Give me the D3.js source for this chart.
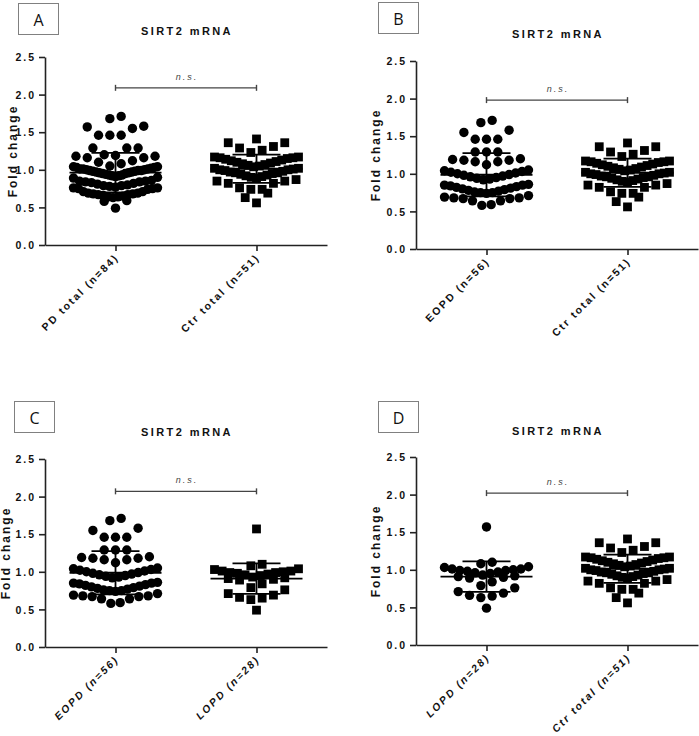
<!DOCTYPE html>
<html><head><meta charset="utf-8">
<script src="https://cdn.jsdelivr.net/npm/d3@7"></script>
<style>body{margin:0;background:#fff} svg{display:block}</style>
</head><body>
<svg id="chart" width="699" height="736"></svg>
<script>
// ---- data ----
const eopd = [1.71,1.68,1.58,1.55,1.46,1.46,1.46,1.29,1.29,1.29,1.20,1.19,1.18,1.18,1.16,1.16,1.12,
  1.05,1.04,1.03,1.02,1.01,1.00,0.99,0.98,0.97,0.96,0.95,0.94,0.93,0.92,
  0.86,0.85,0.85,0.84,0.83,0.82,0.81,0.80,0.79,0.78,0.77,0.76,0.75,0.75,0.74,
  0.71,0.69,0.68,0.68,0.67,0.67,0.64,0.64,0.59,0.58];
const lopd = [1.57,1.10,1.08,1.04,1.03,1.01,1.01,1.00,0.99,0.99,0.98,0.97,0.96,0.95,
  0.93,0.92,0.91,0.90,0.89,0.84,0.79,0.76,0.71,0.69,0.66,0.65,0.63,0.49];
const ctr = [1.41,1.36,1.36,1.31,1.29,1.26,1.23,
  1.17,1.17,1.16,1.16,1.15,1.14,1.13,1.12,1.11,1.10,1.09,1.08,1.07,1.06,1.05,1.04,
  1.02,1.02,1.01,1.00,1.00,0.99,0.98,0.97,0.96,0.96,0.95,0.94,0.93,0.92,0.91,0.90,0.89,
  0.87,0.85,0.85,0.82,0.82,0.76,0.74,0.74,
  0.69,0.63,0.56];
const pdTotal = eopd.concat(lopd);

const panelLetters = ["A", "B", "C", "D"];
const chartTitle = "SIRT2 mRNA";
const yLabel = "Fold change";
const yTicks = [0, 0.5, 1.0, 1.5, 2.0, 2.5];
const catsA = ["PD total (n=84)", "Ctr total (n=51)"];
const catsB = ["EOPD (n=56)", "Ctr total (n=51)"];
const catsC = ["EOPD (n=56)", "LOPD (n=28)"];
const catsD = ["LOPD (n=28)", "Ctr total (n=51)"];
const nsLabel = "n.s.";
const nsLevels = [2.09, 1.98, 2.07, 2.02];

// ---- layout ----
const panels = [
  {letter: panelLetters[0], cats: catsA, groups: [pdTotal, ctr], shapes: ["circle","square"], ns: nsLevels[0],
   x0: 45, y0: 245, box: [18, 3], titleY: 35, ylabX: 17, italic: false},
  {letter: panelLetters[1], cats: catsB, groups: [eopd, ctr], shapes: ["circle","square"], ns: nsLevels[1],
   x0: 416, y0: 249, box: [378, 2], titleY: 38, ylabX: 380, italic: false},
  {letter: panelLetters[2], cats: catsC, groups: [eopd, lopd], shapes: ["circle","square"], ns: nsLevels[2],
   x0: 45, y0: 647, box: [14, 401], titleY: 436, ylabX: 10, italic: true},
  {letter: panelLetters[3], cats: catsD, groups: [lopd, ctr], shapes: ["circle","square"], ns: nsLevels[3],
   x0: 416, y0: 645, box: [378, 401], titleY: 435, ylabX: 380, italic: true}
];
const plotH = 188, plotW = 282;
const FONT = "'Liberation Sans', Arial, sans-serif";

function layoutRows(values, h, W, smax) {
  const sorted = values.slice().sort(d3.ascending);
  const rows = []; let cur = null;
  sorted.forEach(v => {
    if (!cur || v >= cur.start + h - 1e-9) { cur = {start: v, vals: []}; rows.push(cur); }
    cur.vals.push(v);
  });
  const pts = [];
  rows.forEach(r => {
    const n = r.vals.length;
    const s = n > 1 ? Math.min(smax, W / (n - 1)) : 0;
    r.vals.forEach((v, i) => {
      let off;
      if (n % 2 === 1) { const k = Math.ceil(i / 2); off = i === 0 ? 0 : (i % 2 === 1 ? -k : k) * s; }
      else { const k = Math.floor(i / 2) + 0.5; off = (i % 2 === 0 ? -k : k) * s; }
      pts.push({v, off});
    });
  });
  return pts;
}

const svg = d3.select("#chart");

panels.forEach(p => {
  const g = svg.append("g");
  const y = d3.scaleLinear().domain([0, 2.5]).range([p.y0, p.y0 - plotH]);
  const x = d3.scalePoint().domain(p.cats).range([p.x0, p.x0 + plotW]).padding(0.5);

  // panel letter box
  g.append("rect").attr("x", p.box[0] + 0.5).attr("y", p.box[1] + 0.5).attr("width", 40).attr("height", 31)
    .attr("fill", "#fff").attr("stroke", "#808080").attr("stroke-width", 1);
  g.append("text").attr("x", p.box[0] + 20.5).attr("y", p.box[1] + 22.5).attr("text-anchor", "middle")
    .attr("font-family", "'Open Sans', sans-serif").attr("font-size", 16).attr("fill", "#111").text(p.letter);

  // title
  g.append("text").attr("x", p.x0 + plotW / 2 + 1).attr("y", p.titleY).attr("text-anchor", "middle")
    .attr("font-family", FONT).attr("font-weight", "bold").attr("font-size", 11)
    .attr("letter-spacing", "2.4px").attr("fill", "#111").text(chartTitle);

  // y label
  g.append("text").attr("transform", `translate(${p.ylabX},${p.y0 - plotH / 2}) rotate(-90)`)
    .attr("text-anchor", "middle").attr("font-family", FONT).attr("font-weight", "bold")
    .attr("font-size", 12).attr("letter-spacing", "2px").attr("fill", "#111").text(yLabel);

  // y axis
  const ya = g.append("g").attr("transform", `translate(${p.x0},0)`)
    .call(d3.axisLeft(y).tickValues(yTicks).tickFormat(d3.format(".1f")).tickSize(6).tickSizeOuter(0).tickPadding(3));
  ya.select(".domain").attr("stroke", "#222").attr("stroke-width", 1.6);
  ya.selectAll(".tick line").attr("stroke", "#222").attr("stroke-width", 1.6);
  ya.selectAll(".tick text").attr("font-family", FONT).attr("font-weight", "bold").attr("font-size", 10.5)
    .attr("letter-spacing", "2px").attr("fill", "#111").attr("dy", "0.35em");

  // x axis
  const xa = g.append("g").attr("transform", `translate(0,${p.y0})`)
    .call(d3.axisBottom(x).tickSize(6).tickSizeOuter(0).tickFormat(""));
  xa.select(".domain").attr("stroke", "#222").attr("stroke-width", 1.6);
  xa.selectAll(".tick line").attr("stroke", "#222").attr("stroke-width", 1.6);

  // x labels rotated
  g.selectAll(".xl").data(p.cats).enter().append("text")
    .attr("transform", d => `translate(${x(d) + 4},${p.y0 + 13}) rotate(-45)`)
    .attr("text-anchor", "end").attr("font-family", FONT).attr("font-weight", "bold")
    .attr("font-style", p.italic ? "italic" : "normal")
    .attr("font-size", 10.5).attr("letter-spacing", "2px").attr("fill", "#111").text(d => d);

  // points
  p.groups.forEach((vals, gi) => {
    const cx = x(p.cats[gi]);
    const pts = layoutRows(vals, 0.135, 84, 11.3);
    if (p.shapes[gi] === "circle") {
      g.append("g").selectAll("circle").data(pts).enter().append("circle")
        .attr("cx", d => cx + d.off).attr("cy", d => y(d.v)).attr("r", 4.7).attr("fill", "#000");
    } else {
      const s = 8.8;
      g.append("g").selectAll("rect").data(pts).enter().append("rect")
        .attr("x", d => cx + d.off - s / 2).attr("y", d => y(d.v) - s / 2)
        .attr("width", s).attr("height", s).attr("fill", "#000");
    }
    // mean +- SD
    const m = d3.mean(vals), sd = d3.deviation(vals);
    const eg = g.append("g").attr("stroke", "#000").attr("stroke-width", 1.8);
    eg.append("line").attr("x1", cx - 46).attr("x2", cx + 46).attr("y1", y(m)).attr("y2", y(m));
    eg.append("line").attr("x1", cx).attr("x2", cx).attr("y1", y(m - sd)).attr("y2", y(m + sd));
    eg.append("line").attr("x1", cx - 24).attr("x2", cx + 24).attr("y1", y(m + sd)).attr("y2", y(m + sd));
    eg.append("line").attr("x1", cx - 24).attr("x2", cx + 24).attr("y1", y(m - sd)).attr("y2", y(m - sd));
  });

  // n.s. bracket
  const xa1 = x(p.cats[0]), xb1 = x(p.cats[1]), yn = y(p.ns);
  const bg = g.append("g").attr("stroke", "#444").attr("stroke-width", 1.4);
  bg.append("line").attr("x1", xa1).attr("x2", xb1).attr("y1", yn).attr("y2", yn);
  bg.append("line").attr("x1", xa1).attr("x2", xa1).attr("y1", yn - 3).attr("y2", yn + 3);
  bg.append("line").attr("x1", xb1).attr("x2", xb1).attr("y1", yn - 3).attr("y2", yn + 3);
  g.append("text").attr("x", (xa1 + xb1) / 2 + 1).attr("y", yn - 8).attr("text-anchor", "middle")
    .attr("font-family", FONT).attr("font-style", "italic").attr("font-size", 9)
    .attr("letter-spacing", "2px").attr("fill", "#444").text(nsLabel);
});
</script>
</body></html>
